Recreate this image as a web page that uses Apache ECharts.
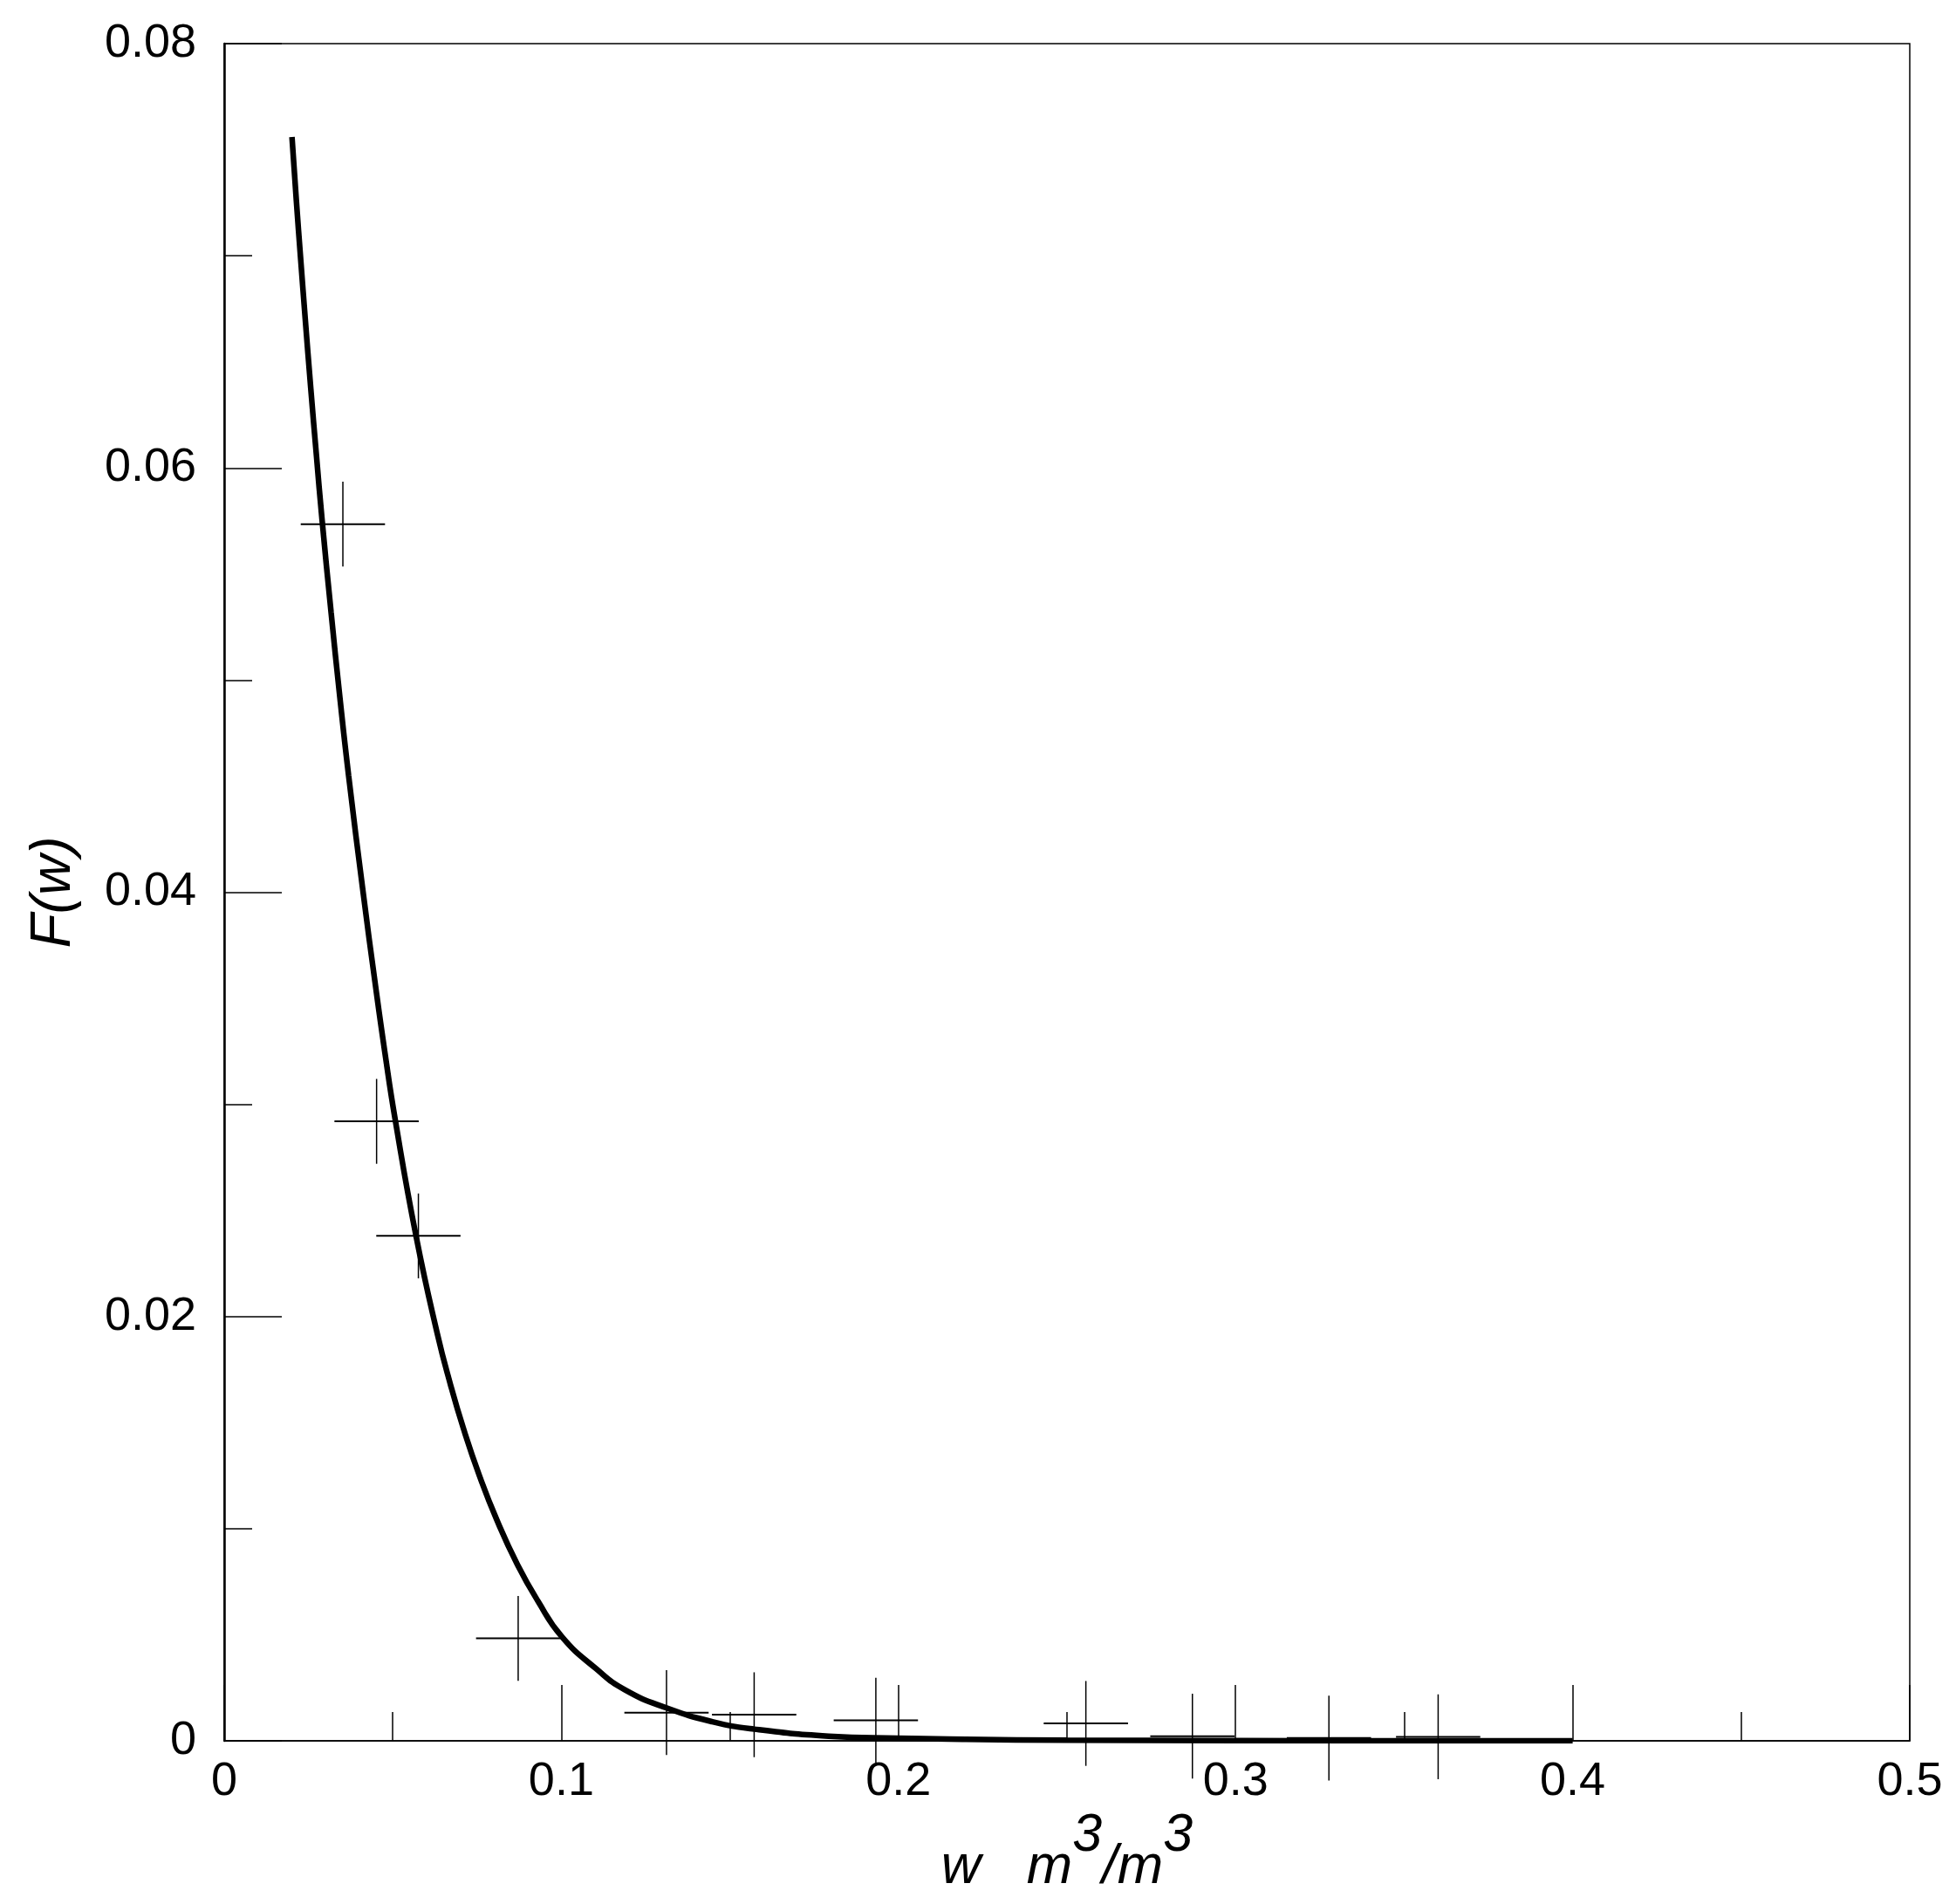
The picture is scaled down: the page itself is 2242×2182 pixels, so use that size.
<!DOCTYPE html>
<html>
<head>
<meta charset="utf-8">
<script src="https://cdn.jsdelivr.net/npm/echarts@6/dist/echarts.min.js"></script>
<style>
  html, body { margin: 0; padding: 0; background: #ffffff; }
  #main { width: 2242px; height: 2182px; }
</style>
</head>
<body>
<div id="main"></div>
<script>
// fitted curve F(w)
var curveW = [0.0201, 0.0214, 0.0227, 0.0240, 0.0257, 0.0274, 0.0290, 0.0317, 0.0343, 0.0369,
  0.0412, 0.0447, 0.0477, 0.0507, 0.0569, 0.0632, 0.0671, 0.0710, 0.0757, 0.0809, 0.0870,
  0.0930, 0.1002, 0.1103, 0.1189, 0.1312, 0.1448, 0.1572, 0.1793, 0.2000, 0.2200, 0.2500,
  0.3000, 0.3500, 0.4000]
var curveF = [0.0756, 0.0726, 0.0698, 0.0671, 0.0637, 0.0605, 0.0576, 0.0532, 0.0492, 0.0455,
  0.0400, 0.0358, 0.0324, 0.0293, 0.0238, 0.0192, 0.0168, 0.0147, 0.0125, 0.0104, 0.0083,
  0.0066, 0.0049, 0.0034, 0.0024, 0.00155, 0.0009, 0.00055, 0.00022, 0.00012, 0.00007, 0.00003,
  0.00001, 0, 0]

// measured points with their error bars (half widths)
var pointW = [0.0352, 0.0452, 0.0576, 0.0872, 0.1312, 0.1572, 0.1933, 0.2556, 0.2872, 0.3277, 0.3601]
var pointF = [0.05735, 0.0292, 0.0238, 0.00483, 0.00133, 0.00123, 0.00097, 0.00082, 0.00022, 0.00013, 0.00019]
var errW = [0.0125, 0.0125, 0.0125, 0.0125, 0.0125, 0.0125, 0.0125, 0.0125, 0.0125, 0.0125, 0.0125]
var errF = [0.002, 0.002, 0.002, 0.002, 0.002, 0.002, 0.002, 0.002, 0.002, 0.002, 0.002]

var curveData = curveW.map(function (w, i) { return [w, curveF[i]] })
var pointData = pointW.map(function (w, i) { return [w, pointF[i], errW[i], errF[i]] })

var font = 'Liberation Sans, Arial, sans-serif'

function renderCross (params, api) {
  var x = api.value(0)
  var y = api.value(1)
  var ex = api.value(2)
  var ey = api.value(3)
  var l = api.coord([x - ex, y])
  var r = api.coord([x + ex, y])
  var t = api.coord([x, y + ey])
  var b = api.coord([x, y - ey])
  return {
    type: 'group',
    children: [
      { type: 'line', shape: { x1: l[0], y1: l[1], x2: r[0], y2: r[1] }, style: { stroke: '#000', lineWidth: 2 } },
      { type: 'line', shape: { x1: t[0], y1: t[1], x2: b[0], y2: b[1] }, style: { stroke: '#000', lineWidth: 1.5 } }
    ]
  }
}

var myChart = echarts.init(document.getElementById('main'))
myChart.setOption({
  backgroundColor: '#ffffff',
  animation: false,
  grid: {
    left: 257,
    right: 53,
    top: 50,
    bottom: 187,
    containLabel: false,
    outerBoundsMode: 'none',
    show: true,
    borderColor: '#000',
    borderWidth: 1.5
  },
  xAxis: {
    type: 'value',
    min: 0,
    max: 0.5,
    interval: 0.1,
    name: '{i|w   m}{s|3}{i|/m}{s|3}',
    nameLocation: 'middle',
    nameGap: 31,
    nameTextStyle: {
      rich: {
        i: { fontFamily: font, fontStyle: 'italic', fontSize: 63, lineHeight: 62, verticalAlign: 'bottom', color: '#000' },
        s: { fontFamily: font, fontStyle: 'italic', fontSize: 61, lineHeight: 98, verticalAlign: 'top', color: '#000' }
      }
    },
    axisLine: { lineStyle: { color: '#000', width: 1.5 } },
    axisTick: { inside: true, length: 64, lineStyle: { color: '#000', width: 1.5 } },
    minorTick: { show: true, splitNumber: 2, length: 33, lineStyle: { color: '#000', width: 1.5 } },
    splitLine: { show: false },
    axisLabel: { margin: 20, fontFamily: font, fontSize: 54, color: '#000' }
  },
  yAxis: {
    type: 'value',
    min: 0,
    max: 0.08,
    interval: 0.02,
    name: 'F(w)',
    nameLocation: 'middle',
    nameGap: 163,
    nameTextStyle: { fontFamily: font, fontStyle: 'italic', fontSize: 64, color: '#000' },
    axisLine: { show: true, lineStyle: { color: '#000', width: 2.5 } },
    axisTick: { show: true, inside: true, length: 66, lineStyle: { color: '#000', width: 1.5 } },
    minorTick: { show: true, splitNumber: 2, length: 32, lineStyle: { color: '#000', width: 1.5 } },
    splitLine: { show: false },
    axisLabel: { margin: 32, fontFamily: font, fontSize: 54, color: '#000' }
  },
  series: [
    {
      type: 'custom',
      renderItem: renderCross,
      data: pointData,
      encode: { x: 0, y: 1 },
      clip: false,
      silent: true,
      z: 2
    },
    {
      type: 'line',
      data: curveData,
      showSymbol: false,
      smooth: 0.5,
      lineStyle: { color: '#000', width: 6.5 },
      silent: true,
      z: 3
    }
  ]
})
</script>
</body>
</html>
